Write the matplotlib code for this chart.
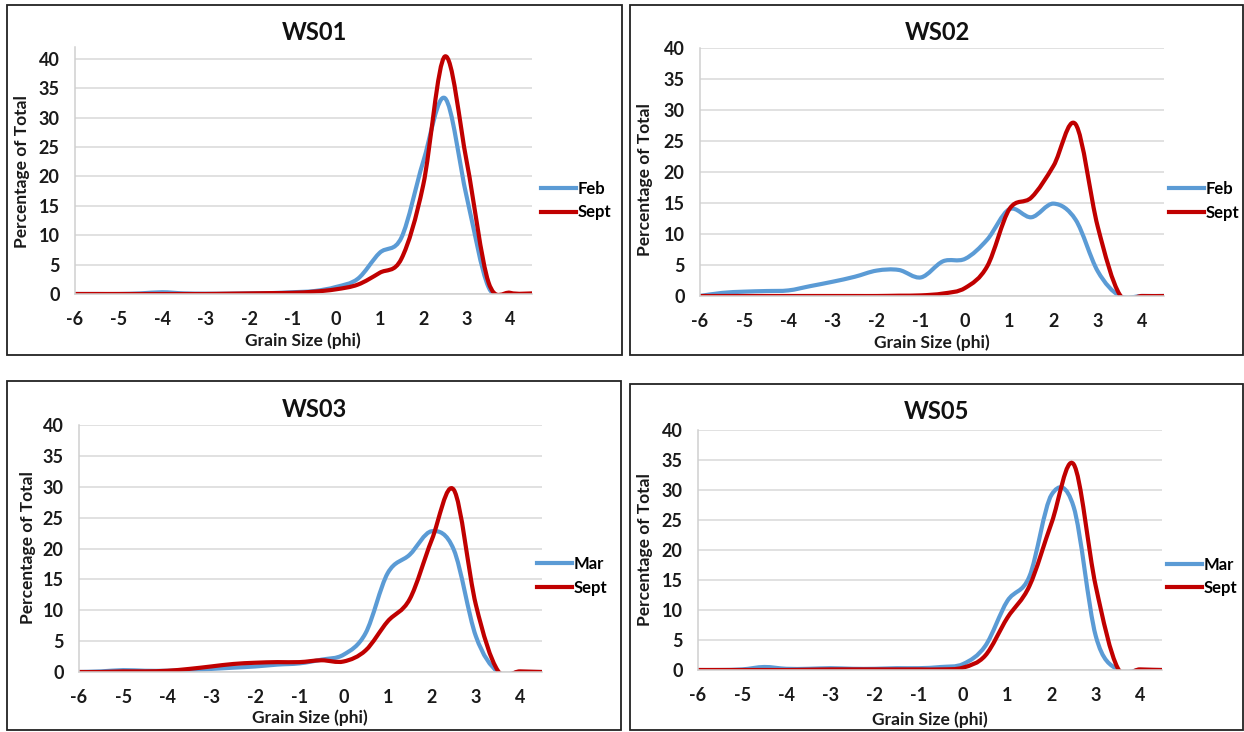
import numpy as np
import matplotlib
matplotlib.use('Agg')
import matplotlib.pyplot as plt
from matplotlib.path import Path
from matplotlib.patches import PathPatch, Rectangle
from matplotlib.lines import Line2D

plt.rcParams['font.family'] = ['Lato', 'DejaVu Sans']
plt.rcParams['font.weight'] = 'bold'
plt.rcParams['axes.unicode_minus'] = False

# grain size classes (phi), 0.5 phi steps
phi = [-6, -5.5, -5, -4.5, -4, -3.5, -3, -2.5, -2, -1.5, -1, -0.5,
       0, 0.5, 1, 1.5, 2, 2.5, 3, 3.5, 4, 4.5]

ws01_feb  = [0, 0, 0, 0.1, 0.3, 0.1, 0.05, 0.05, 0.1, 0.15, 0.3, 0.5,
             1.2, 2.6, 7.0, 9.6, 22.5, 33.3, 16.5, 1.2, 0, 0]
ws01_sept = [0, 0, 0, 0, 0, 0, 0, 0.05, 0.1, 0.15, 0.2, 0.4,
             0.8, 1.6, 3.6, 6.0, 18.5, 40.4, 22.5, 2.0, 0.2, 0.1]

ws02_feb  = [0, 0.5, 0.7, 0.8, 0.9, 1.6, 2.3, 3.1, 4.1, 4.2, 3.0, 5.6,
             6.0, 9.1, 14.0, 12.7, 14.9, 12.3, 4.0, 0, 0, 0]
ws02_sept = [0, 0, 0, 0, 0, 0, 0, 0, 0, 0.05, 0.1, 0.4,
             1.3, 4.8, 14.0, 15.9, 21.0, 27.7, 11.2, 0.2, 0, 0]

ws03_mar  = [0, 0.1, 0.3, 0.2, 0.2, 0.3, 0.5, 0.7, 0.9, 1.2, 1.4, 2.0,
             2.8, 6.3, 16.0, 19.0, 22.8, 19.8, 5.8, 0, 0, 0]
ws03_sept = [0, 0, 0.1, 0.1, 0.2, 0.5, 0.9, 1.3, 1.5, 1.6, 1.6, 1.9,
             1.7, 3.5, 8.2, 11.8, 21.4, 29.5, 10.9, 0.2, 0.1, 0]

ws05_mar  = [0, 0, 0.1, 0.5, 0.2, 0.2, 0.3, 0.2, 0.2, 0.3, 0.3, 0.5,
             1.0, 4.0, 11.5, 15.6, 29.2, 27.2, 5.7, 0, 0, 0]
ws05_sept = [0, 0, 0, 0, 0, 0.05, 0.1, 0.1, 0.1, 0.1, 0.1, 0.1,
             0.4, 2.4, 8.7, 14.0, 24.5, 34.3, 14.0, 0.3, 0.1, 0]

titles = ['WS01', 'WS02', 'WS03', 'WS05']
first_labels = ['Feb', 'Feb', 'Mar', 'Mar']
series = [(ws01_feb, ws01_sept), (ws02_feb, ws02_sept),
          (ws03_mar, ws03_sept), (ws05_mar, ws05_sept)]
y_tops = [42, 40, 40, 40]

BLUE = '#5B9BD5'
RED = '#C00000'
W, H = 1244, 732


def smooth_path(x, y):
    # Excel-style smoothed line: Catmull-Rom segments as cubic Bezier
    x = np.asarray(x, float)
    y = np.asarray(y, float)
    n = len(x)
    verts = [(x[0], y[0])]
    codes = [Path.MOVETO]
    for i in range(n - 1):
        i0 = max(i - 1, 0)
        i3 = min(i + 2, n - 1)
        c1 = (x[i] + (x[i + 1] - x[i0]) / 6, y[i] + (y[i + 1] - y[i0]) / 6)
        c2 = (x[i + 1] - (x[i3] - x[i]) / 6, y[i + 1] - (y[i3] - y[i]) / 6)
        verts += [c1, c2, (x[i + 1], y[i + 1])]
        codes += [Path.CURVE4] * 3
    return Path(verts, codes)


def px(x0, y0, x1, y1):
    # pixel box (left, top, right, bottom) -> figure fraction rect
    return [x0 / W, 1 - y1 / H, (x1 - x0) / W, (y1 - y0) / H]


fig = plt.figure(figsize=(12.44, 7.32), dpi=100)

frames = [(7, 5, 622, 355), (630, 5, 1243, 355),
          (7, 381, 621, 730), (630, 384, 1243, 730)]
axes_px = [(75, 47, 532, 294), (700, 48, 1164, 296),
           (79, 425, 542, 672), (698, 430, 1162, 670)]
title_pos = [(314, 33), (937, 33), (314, 410), (937, 412)]
ylab_pos = [(22, 172), (645, 180), (28, 548), (645, 550)]
xlab_pos = [(303, 341), (932, 343), (310, 718), (930, 720)]
leg_anchor = [(1.02, 0.378), (1.01, 0.383), (0.99, 0.389), (1.01, 0.39)]

for fr in frames:
    fig.patches.append(Rectangle((fr[0] / W, 1 - fr[3] / H),
                                 (fr[2] - fr[0]) / W, (fr[3] - fr[1]) / H,
                                 transform=fig.transFigure, fill=False,
                                 edgecolor='#222222', linewidth=1.3))

for k in range(4):
    ax = fig.add_axes(px(*axes_px[k]))
    first, sept = series[k]
    ax.add_patch(PathPatch(smooth_path(phi, first), fill=False,
                           edgecolor=BLUE, lw=3, capstyle='round', joinstyle='round'))
    ax.add_patch(PathPatch(smooth_path(phi, sept), fill=False,
                           edgecolor=RED, lw=3, capstyle='round', joinstyle='round'))
    ax.set_xlim(-6, 4.5)
    ax.set_ylim(0, y_tops[k])
    ax.set_xticks(range(-6, 5))
    ax.set_yticks(range(0, 41, 5))
    ax.tick_params(length=0, labelsize=13, colors='#1a1a1a')
    ax.tick_params(axis='y', pad=11)
    ax.tick_params(axis='x', pad=12)
    for lab in ax.get_xticklabels() + ax.get_yticklabels():
        lab.set_fontweight('bold')
    ax.grid(axis='y', color='#d9d9d9', lw=1.1)
    ax.set_axisbelow(True)
    for s in ['top', 'right']:
        ax.spines[s].set_visible(False)
    for s in ['left', 'bottom']:
        ax.spines[s].set_color('#d0d0d0')
        ax.spines[s].set_linewidth(1.1)

    handles = [Line2D([], [], color=BLUE, lw=3),
               Line2D([], [], color=RED, lw=3)]
    ax.legend(handles, [first_labels[k], 'Sept'], loc='center left',
              bbox_to_anchor=leg_anchor[k], frameon=False, fontsize=12,
              handlelength=2.1, handletextpad=0.1, labelspacing=0.45,
              borderaxespad=0, borderpad=0)

    tx, ty = title_pos[k]
    fig.text(tx / W, 1 - ty / H, titles[k], ha='center', va='center',
             fontsize=17, fontweight='bold', color='#111111')
    lx, ly = ylab_pos[k]
    fig.text(lx / W, 1 - ly / H, 'Percentage of Total', ha='center', va='center',
             rotation=90, fontsize=12.5, fontweight='bold', color='#1a1a1a')
    gx, gy = xlab_pos[k]
    fig.text(gx / W, 1 - gy / H, 'Grain Size (phi)', ha='center', va='center',
             fontsize=12.5, fontweight='bold', color='#1a1a1a')

fig.savefig('out.png', dpi=100)
